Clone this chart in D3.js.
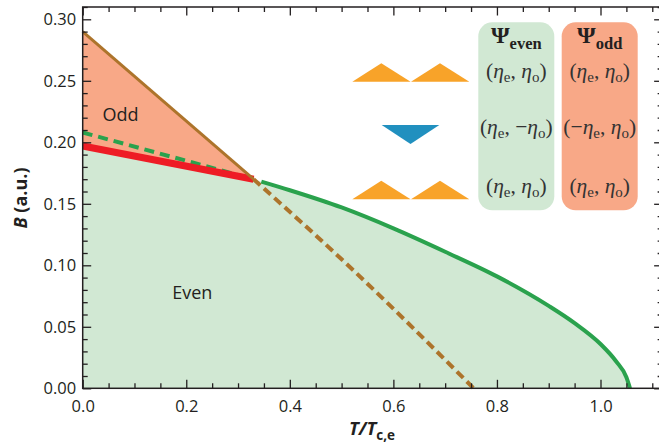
<!DOCTYPE html>
<html>
<head>
<meta charset="utf-8">
<script src="https://cdn.jsdelivr.net/npm/d3@7"></script>
<style>
  body { margin: 0; background: #fff; }
  svg { display: block; }
  .axis text { font-family: "Open Sans", sans-serif; font-size: 16.5px; fill: #231f20; }
  .axis line { stroke: #231f20; stroke-width: 1.3; }
  .region { font-family: "Open Sans", sans-serif; font-size: 18px; fill: #231f20; }
  .legend text { font-family: "Liberation Serif", serif; fill: #333; }
</style>
</head>
<body>
<div id="chart"></div>
<script>
// tick values
const xTicks = [0.0, 0.2, 0.4, 0.6, 0.8, 1.0];
const yTicks = [0.00, 0.05, 0.10, 0.15, 0.20, 0.25, 0.30];

// phase boundaries, [T/Tc,e, B]
const oddUpper = [[0, 0.290], [0.330, 0.170]];            // brown solid
const oddSpinodal = [[0.330, 0.170], [0.520, 0.097], [0.755, 0]]; // brown dashed
const firstOrder = [[0, 0.197], [0.330, 0.170]];         // red
const evenSpinodal = [[0, 0.208], [0.330, 0.170]];       // green dashed
const evenUpper = [[0.345, 0.168], [0.40, 0.161], [0.50, 0.147], [0.60, 0.130],
  [0.70, 0.111], [0.80, 0.091], [0.90, 0.067], [0.95, 0.053], [1.00, 0.036],
  [1.03, 0.022], [1.05, 0.009], [1.057, 0]];              // green solid

// legend rows: sign of (eta_e, eta_o) for each order parameter
const legendHeads = ["even", "odd"];
const evenSigns = [["", ""], ["", "\u2212"], ["", ""]];
const oddSigns = [["", ""], ["\u2212", ""], ["", ""]];
const rowShapes = ["up", "down", "up"];

const W = 659, H = 444;
const margin = { top: 7, left: 82.7, right: 0, bottom: 55.7 };

const x = d3.scaleLinear().domain([0, 1.12]).range([margin.left, margin.left + 1.12 * 517.8]);
const y = d3.scaleLinear().domain([0, 0.31]).range([H - margin.bottom, H - margin.bottom - 0.31 * 1230]);

const svg = d3.select("#chart").append("svg")
  .attr("width", W).attr("height", H);

const evenFill = "#d1e8d3", oddFill = "#f8a887";
const brown = "#ad742b", green = "#2aa24d", red = "#ee1c25";

// region fills
const area = d3.line().x(d => x(d[0])).y(d => y(d[1]));
const evenPoly = [[0, 0]].concat(firstOrder, evenUpper, [[0, 0]]);
const oddPoly = oddUpper.concat(firstOrder.slice().reverse());

svg.append("path").attr("d", area(evenPoly) + "Z").attr("fill", evenFill);
svg.append("path").attr("d", area(oddPoly) + "Z").attr("fill", oddFill);

// lines
const line = d3.line().x(d => x(d[0])).y(d => y(d[1]));
const smooth = d3.line().x(d => x(d[0])).y(d => y(d[1])).curve(d3.curveMonotoneX);

svg.append("path").attr("d", line(evenSpinodal))
  .attr("fill", "none").attr("stroke", green).attr("stroke-width", 4)
  .attr("stroke-dasharray", "10,6");
svg.append("path").attr("d", line(firstOrder))
  .attr("fill", "none").attr("stroke", red).attr("stroke-width", 7);
svg.append("path").attr("d", line(oddUpper))
  .attr("fill", "none").attr("stroke", brown).attr("stroke-width", 3);
svg.append("path").attr("d", smooth(oddSpinodal))
  .attr("fill", "none").attr("stroke", brown).attr("stroke-width", 4)
  .attr("stroke-dasharray", "9,5");
svg.append("path").attr("d", smooth(evenUpper))
  .attr("fill", "none").attr("stroke", green).attr("stroke-width", 4);

// region labels
svg.append("text").attr("class", "region").attr("x", x(0.038)).attr("y", y(0.2175)).text("Odd");
svg.append("text").attr("class", "region").attr("x", x(0.173)).attr("y", y(0.0725)).text("Even");

// axes, ticks pointing inward on all four sides
const xMinor = d3.range(0, 1.121, 0.05).filter(v => !xTicks.some(t => Math.abs(t - v) < 1e-6));
const yMinor = d3.range(0, 0.3101, 0.01).filter(v => !yTicks.some(t => Math.abs(t - v) < 1e-6));
const major = 8.5, minor = 5;
const x0 = x.range()[0], x1 = x.range()[1], y0 = y.range()[0], y1 = y.range()[1];

function ticks(axis, pos, values, size, fmt) {
  const g = svg.append("g").attr("class", "axis").attr("transform", pos)
    .call(axis.tickValues(values).tickSize(-size).tickSizeOuter(0).tickFormat(fmt || ""));
  g.select(".domain").remove();
  return g;
}

ticks(d3.axisBottom(x).tickPadding(12), `translate(0,${y0})`, xTicks, major, d3.format(".1f"));
ticks(d3.axisBottom(x), `translate(0,${y0})`, xMinor, minor);
ticks(d3.axisTop(x), `translate(0,${y1})`, xTicks, major);
ticks(d3.axisTop(x), `translate(0,${y1})`, xMinor, minor);
ticks(d3.axisLeft(y).tickPadding(6.5), `translate(${x0},0)`, yTicks, major, d3.format(".2f"));
ticks(d3.axisLeft(y), `translate(${x0},0)`, yMinor, minor);
ticks(d3.axisRight(y), `translate(${x1},0)`, yTicks, major);
ticks(d3.axisRight(y), `translate(${x1},0)`, yMinor, minor);

svg.append("rect")
  .attr("x", x0).attr("y", y1).attr("width", x1 - x0).attr("height", y0 - y1)
  .attr("fill", "none").attr("stroke", "#231f20").attr("stroke-width", 1.5);

// axis titles
const xt = svg.append("text")
  .attr("x", 372).attr("y", 435).attr("text-anchor", "middle")
  .style("font-family", "'Open Sans', sans-serif").style("font-size", "18.5px")
  .style("font-weight", "bold").style("fill", "#231f20");
xt.append("tspan").style("font-style", "italic").text("T/T");
xt.append("tspan").attr("dy", 5).style("font-size", "13.5px").text("c,e");

svg.append("text")
  .attr("transform", "translate(27,198) rotate(-90)").attr("text-anchor", "middle")
  .style("font-family", "'Open Sans', sans-serif").style("font-size", "18px")
  .style("font-weight", "bold").style("fill", "#231f20")
  .call(t => {
    t.append("tspan").style("font-style", "italic").text("B");
    t.append("tspan").text(" (a.u.)");
  });

// legend
const legend = svg.append("g").attr("class", "legend");
const panels = [
  { x: 478.3, fill: evenFill, signs: evenSigns },
  { x: 561.7, fill: oddFill, signs: oddSigns }
];
const panelW = 76, rowY = [77.5, 134, 192.5];

panels.forEach((p, i) => {
  legend.append("rect")
    .attr("x", p.x).attr("y", 22.3).attr("width", panelW).attr("height", 188)
    .attr("rx", 14).attr("fill", p.fill);
  const cx = p.x + panelW / 2;
  const head = legend.append("text").attr("x", cx).attr("y", 42.5).attr("text-anchor", "middle")
    .style("font-weight", "bold").style("fill", "#231f20");
  head.append("tspan").style("font-size", "24px").text("\u03A8");
  head.append("tspan").attr("dy", 6).style("font-size", "16.5px").text(legendHeads[i]);

  p.signs.forEach((s, r) => {
    const t = legend.append("text").attr("x", cx).attr("y", rowY[r])
      .attr("text-anchor", "middle").style("font-size", "21.5px");
    t.append("tspan").text("(" + s[0]);
    t.append("tspan").style("font-style", "italic").text("\u03B7");
    t.append("tspan").attr("dy", 4).style("font-size", "15px").text("e");
    t.append("tspan").attr("dy", -4).text(", " + s[1]);
    t.append("tspan").style("font-style", "italic").text("\u03B7");
    t.append("tspan").attr("dy", 4).style("font-size", "15px").text("o");
    t.append("tspan").attr("dy", -4).text(")");
  });
});

// lattice sketches left of the panels
const orange = "#f8a329", blue = "#2190bf";
const shapeBase = [81.7, 144, 199.3];
rowShapes.forEach((s, r) => {
  const b = shapeBase[r];
  if (s === "up") {
    [352.3, 411].forEach(l => {
      legend.append("path")
        .attr("d", `M${l},${b} L${l + 29},${b - 18.5} L${l + 58.3},${b} Z`)
        .attr("fill", orange);
    });
  } else {
    legend.append("path")
      .attr("d", `M381.7,${b - 19} L439.3,${b - 19} L410.5,${b} Z`)
      .attr("fill", blue);
  }
});
</script>
</body>
</html>
